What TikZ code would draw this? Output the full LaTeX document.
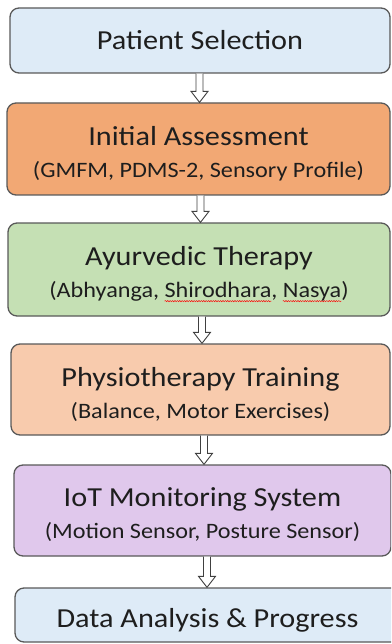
\documentclass[tikz,border=0pt]{standalone}
\usepackage{fontspec}
\setmainfont{Carlito}[FakeStretch=1.1]
\usetikzlibrary{calc, decorations.pathmorphing}

\definecolor{selcol}{RGB}{222,235,247}
\definecolor{assesscol}{RGB}{242,168,116}
\definecolor{ayurcol}{RGB}{197,224,180}
\definecolor{physiocol}{RGB}{248,203,173}
\definecolor{iotcol}{RGB}{224,200,236}
\definecolor{edgecol}{RGB}{89,89,89}
\definecolor{txtcol}{RGB}{30,30,30}

% red wavy underline below a word
\newsavebox{\wavebox}
\newcommand{\spellwave}[1]{\sbox{\wavebox}{#1}%
  \tikz[overlay, x=1pt, y=1pt]\draw[red, line width=0.45pt, sharp corners, decorate,
    decoration={snake, amplitude=0.6pt, segment length=2.4pt}]
    (0,-3.5) -- (\the\wd\wavebox,-3.5);\usebox{\wavebox}}
\newcommand{\subfont}{\fontsize{22}{30}\selectfont}
\newcommand{\tstrut}[1]{\rule{0pt}{#1}}

% hollow block arrow from box #1 down to box #2, shaft at x = #3
\newcommand{\flowarrow}[3]{%
  \draw[draw=black!75, line width=0.9pt, fill=white]
    let \p1=(#1.south), \p2=(#2.north) in
    ({#3pt-3.5pt},\y1) -- ({#3pt-3.5pt},{\y2+11pt}) -- ({#3pt-8.5pt},{\y2+11pt})
    -- (#3pt,\y2) -- ({#3pt+8.5pt},{\y2+11pt}) -- ({#3pt+3.5pt},{\y2+11pt})
    -- ({#3pt+3.5pt},\y1);}

\begin{document}
\begin{tikzpicture}[x=1pt, y=-1pt,
  box/.style={draw=edgecol, line width=1.3pt, rounded corners=9pt, align=center,
    text=txtcol, font=\fontsize{27.5}{32}\selectfont, inner sep=0pt}]
  \useasboundingbox (0,0) rectangle (391,644);
  \clip (0,0) rectangle (391,644);

  \node[box, fill=selcol, minimum width=380pt, minimum height=65pt]
    (select) at (200,40.5) {Patient Selection};
  \node[box, fill=assesscol, minimum width=383pt, minimum height=92pt]
    (assess) at (198.5,149) {\tstrut{28pt}Initial Assessment\\{\subfont (GMFM, PDMS-2, Sensory Profile)}};
  \node[box, fill=ayurcol, minimum width=382pt, minimum height=93pt]
    (ayur) at (199,269.5) {\tstrut{28pt}Ayurvedic Therapy\\{\subfont (Abhyanga, \spellwave{Shirodhara}, \spellwave{Nasya})}};
  \node[box, fill=physiocol, minimum width=379pt, minimum height=91pt]
    (physio) at (200.5,389.5) {\tstrut{29pt}Physiotherapy Training\\{\subfont (Balance, Motor Exercises)}};
  \node[box, fill=iotcol, minimum width=377pt, minimum height=91pt]
    (iot) at (202.5,510.5) {\tstrut{28pt}IoT Monitoring System\\{\subfont (Motion Sensor, Posture Sensor)}};
  \node[box, fill=selcol, minimum width=385pt, minimum height=54pt]
    (data) at (207.5,615) {\tstrut{30pt}Data Analysis \& Progress};

  \flowarrow{select}{assess}{199.5}
  \flowarrow{assess}{ayur}{200.5}
  \flowarrow{ayur}{physio}{202}
  \flowarrow{physio}{iot}{204}
  \flowarrow{iot}{data}{207}
\end{tikzpicture}
\end{document}
